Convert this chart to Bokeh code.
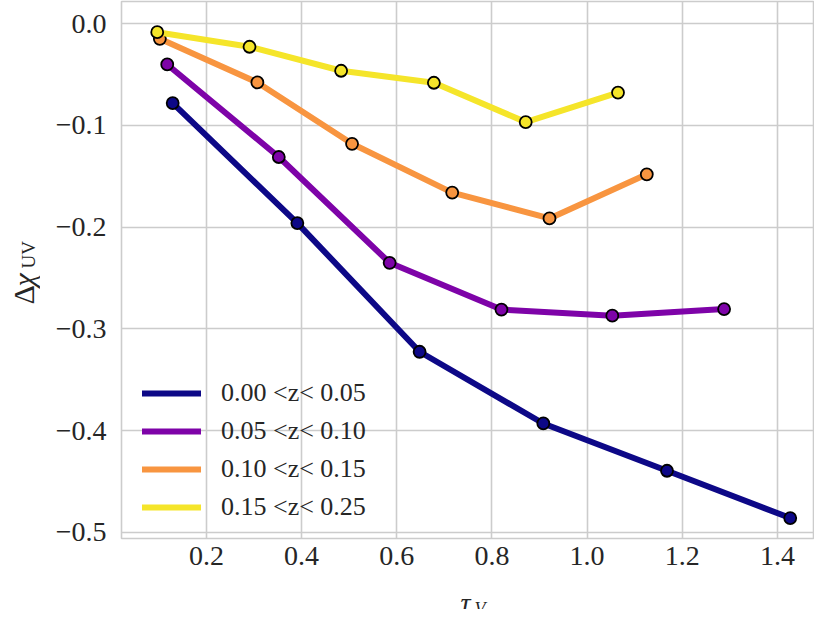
import math
from bokeh.plotting import figure
from bokeh.layouts import row, column
from bokeh.models import (FixedTicker, CustomJSTickFormatter, Legend, LegendItem,
                          Label, Range1d)
from bokeh.embed import file_html
from bokeh.resources import INLINE

# ---- data ----
labels = ["0.00 <z< 0.05", "0.05 <z< 0.10", "0.10 <z< 0.15", "0.15 <z< 0.25"]
colors = ["#0d0887", "#7e03a8", "#f89540", "#f5e52a"]

tau_1 = [0.129, 0.391, 0.648, 0.908, 1.168, 1.427]
dchi_1 = [-0.078, -0.196, -0.3225, -0.393, -0.4395, -0.486]
tau_2 = [0.1175, 0.352, 0.585, 0.820, 1.053, 1.288]
dchi_2 = [-0.040, -0.131, -0.235, -0.281, -0.287, -0.2805]
tau_3 = [0.102, 0.307, 0.506, 0.7165, 0.921, 1.1255]
dchi_3 = [-0.0148, -0.0577, -0.118, -0.166, -0.1914, -0.148]
tau_4 = [0.0965, 0.2905, 0.483, 0.678, 0.871, 1.065]
dchi_4 = [-0.0083, -0.0226, -0.0462, -0.058, -0.0967, -0.0676]

xticks = [0.2, 0.4, 0.6, 0.8, 1.0, 1.2, 1.4]
yticks = [-0.5, -0.4, -0.3, -0.2, -0.1, 0.0]

series = [(tau_1, dchi_1), (tau_2, dchi_2), (tau_3, dchi_3), (tau_4, dchi_4)]

FONT = "Liberation Serif"
TXT = "#262626"
GRID = "#cccccc"

YLAB_W = 40            # width of the strip holding the y label
BOTTOM = 50            # room under the frame for the x tick labels
MAIN_H = 1 + 537 + BOTTOM
XLAB_H = 609 - MAIN_H  # height of the strip holding the x label

p = figure(frame_width=692, frame_height=537, width=814 - YLAB_W, height=MAIN_H,
           min_border_left=121 - YLAB_W, min_border_right=1, min_border_top=1,
           min_border_bottom=BOTTOM,
           x_range=Range1d(0.0214, 1.4759), y_range=Range1d(-0.5061, 0.0219),
           output_backend="svg", toolbar_location=None,
           background_fill_color="white", border_fill_color="white")

p.outline_line_color = GRID
p.outline_line_width = 1.6
for g in (p.xgrid, p.ygrid):
    g.grid_line_color = GRID
    g.grid_line_width = 1.6

p.xaxis.ticker = FixedTicker(ticks=xticks)
p.yaxis.ticker = FixedTicker(ticks=yticks)
fmt_code = """
var v = Math.abs(tick) < 1e-9 ? 0 : tick;
var s = v.toFixed(1);
return s.replace('-', '\\u2212');
"""
for ax in (p.xaxis[0], p.yaxis[0]):
    ax.formatter = CustomJSTickFormatter(code=fmt_code)
    ax.axis_line_color = None
    ax.major_tick_line_color = None
    ax.minor_tick_line_color = None
    ax.major_tick_in = 0
    ax.major_tick_out = 0
    ax.major_label_text_font = FONT
    ax.major_label_text_font_size = "28px"
    ax.major_label_text_color = TXT
    ax.major_label_text_line_height = 1.0
p.xaxis.major_label_standoff = 8
p.yaxis.major_label_standoff = 15

items = []
for (xs, ys), c, lab in zip(series, colors, labels):
    r = p.line(xs, ys, line_color=c, line_width=6, line_cap="round",
               line_join="round")
    p.scatter(xs, ys, size=12, fill_color=c, line_color="black",
              line_width=1.8)
    items.append(LegendItem(label=lab, renderers=[r]))

legend = Legend(items=items, location=(21, 12), orientation="vertical",
                glyph_width=59, glyph_height=38, label_height=38,
                label_standoff=20, spacing=0, padding=0, margin=0,
                background_fill_alpha=0, border_line_color=None,
                label_text_font=FONT, label_text_font_size="26px",
                label_text_color=TXT)
p.add_layout(legend, "center")


def strip(w, h):
    f = figure(width=w, height=h, min_border=0, x_axis_type=None,
               y_axis_type=None, x_range=Range1d(0, w), y_range=Range1d(0, h),
               output_backend="svg", toolbar_location=None,
               background_fill_color="white", border_fill_color="white")
    f.outline_line_color = None
    f.grid.visible = False
    return f


def lab(f, text, x, y, size, style="normal", angle=0.0, side=None):
    lbl = Label(x=x, y=y, x_units="canvas", y_units="canvas",
                text=text, text_font=FONT, text_font_size=size,
                text_font_style=style, text_color=TXT,
                text_align="left", text_baseline="alphabetic",
                angle=angle)
    if side is None:
        f.add_layout(lbl)
    else:
        f.add_layout(lbl, side)


# y label strip: Delta chi_UV (rotated)
fy = strip(YLAB_W, MAIN_H)
lab(fy, "Δ", 23, 304, "30px", "normal", math.pi / 2)
lab(fy, "χ", 23, 286, "30px", "italic", math.pi / 2)
lab(fy, "UV", 28, 268, "19px", "normal", math.pi / 2)

# x label strip: tau_V
fx = strip(814, XLAB_H)
fx.title_location = None
lab(fx, "τ", 460, 14, "28px", "italic", side="left")
lab(fx, "V", 474, 20, "18px", "italic", side="left")

layout = column(row(fy, p, spacing=0), fx, spacing=0)

open("out.html", "w").write(file_html(layout, INLINE))
